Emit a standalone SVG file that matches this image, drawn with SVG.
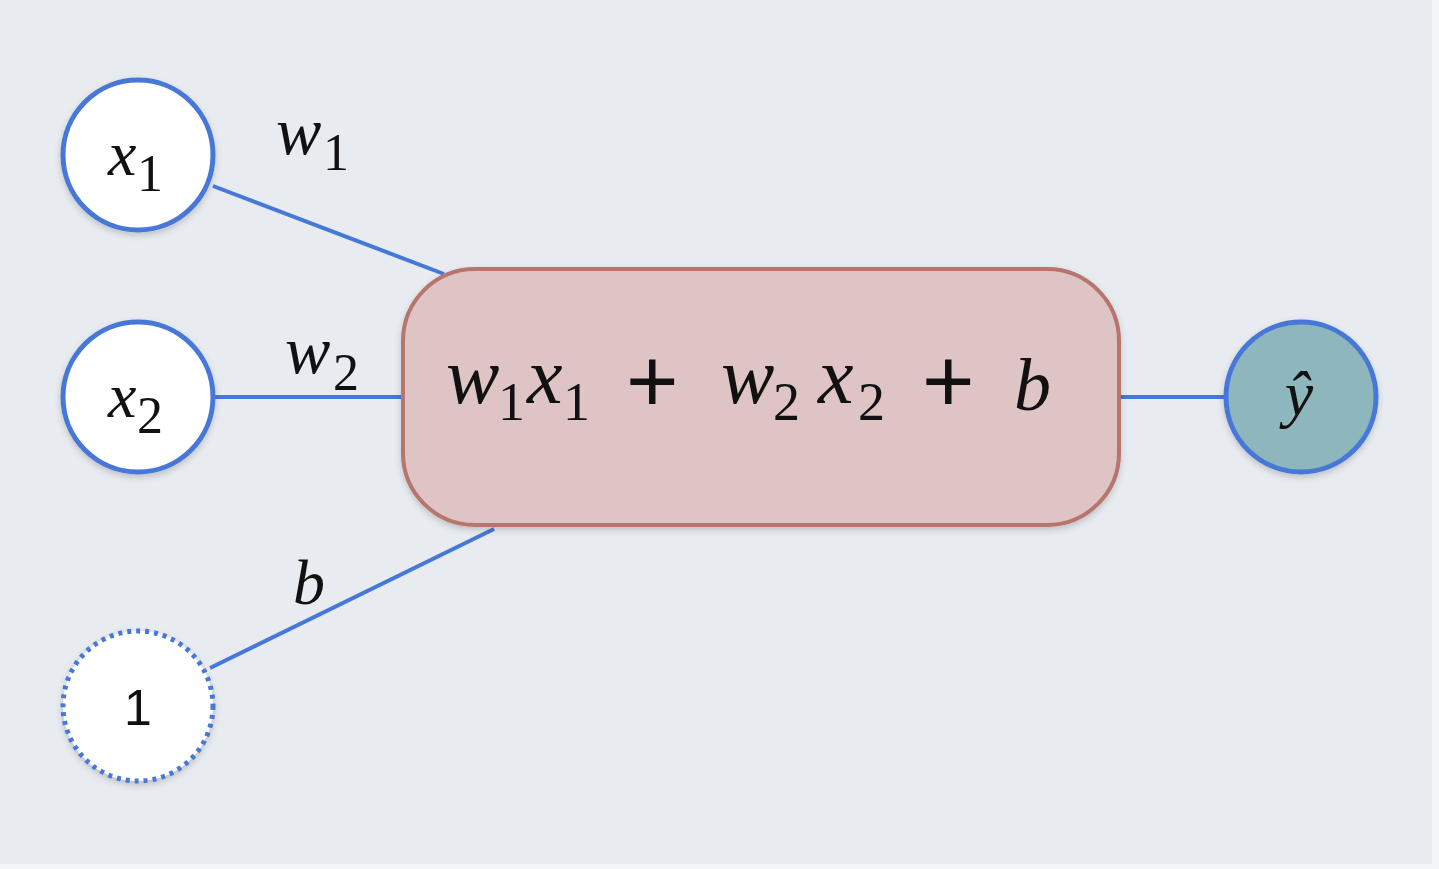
<svg xmlns="http://www.w3.org/2000/svg" width="1439" height="869" viewBox="0 0 1439 869">
<defs>
<filter id="sh" x="-20%" y="-20%" width="140%" height="140%">
<feDropShadow dx="0" dy="3" stdDeviation="3" flood-color="#000" flood-opacity="0.18"/>
</filter>
</defs>
<style>
.node{fill:#ffffff;stroke:#4678d8;stroke-width:5}
.dot{fill:#ffffff;stroke:#4678d8;stroke-width:5;stroke-dasharray:4 5}
.out{fill:#8db7bd;stroke:#4678d8;stroke-width:5}
.edge{stroke:#4678d8;stroke-width:4;fill:none}
.m{font-family:'Liberation Serif',serif;font-style:italic;fill:#111}
.n{font-family:'Liberation Serif',serif;fill:#111}
.p{font-family:'Liberation Sans',sans-serif;fill:#111}
</style>
<rect x="0" y="0" width="1439" height="869" fill="#f4f5f8"/>
<rect x="0" y="0" width="1432" height="864" fill="#e8ebef"/>
<g id="connectors">
<line class="edge" x1="213" y1="186" x2="444" y2="274"/>
<line class="edge" x1="214" y1="397" x2="404" y2="397"/>
<line class="edge" x1="210" y1="668" x2="494" y2="529"/>
<line class="edge" x1="1118" y1="397" x2="1226" y2="397"/>
<text class="m" x="276" y="154" font-size="68">w</text>
<text class="n" x="323" y="170" font-size="52">1</text>
<text class="m" x="285" y="373" font-size="68">w</text>
<text class="n" x="333" y="390" font-size="52">2</text>
<text class="m" x="293" y="604" font-size="64">b</text>
</g>
<g id="sum">
<rect x="403" y="269" width="716" height="256" rx="72" ry="72" fill="#dfc4c5" stroke="#b7756f" stroke-width="4" filter="url(#sh)"/>
<text class="m" x="446" y="403" font-size="80">w</text>
<text class="n" x="498" y="420" font-size="54">1</text>
<text class="m" x="527" y="403" font-size="80">x</text>
<text class="n" x="563" y="420" font-size="54">1</text>
<text class="p" x="626" y="412" font-size="90">+</text>
<text class="m" x="721" y="403" font-size="80">w</text>
<text class="n" x="773" y="420" font-size="54">2</text>
<text class="m" x="818" y="403" font-size="80">x</text>
<text class="n" x="858" y="420" font-size="54">2</text>
<text class="p" x="922" y="412" font-size="90">+</text>
<text class="m" x="1014" y="410" font-size="74">b</text>
</g>
<g id="x1">
<circle class="node" cx="138" cy="155" r="75" filter="url(#sh)"/>
<text class="m" x="108" y="175" font-size="64">x</text>
<text class="n" x="137" y="191" font-size="52">1</text>
</g>
<g id="x2">
<circle class="node" cx="138" cy="397" r="75" filter="url(#sh)"/>
<text class="m" x="108" y="417" font-size="64">x</text>
<text class="n" x="137" y="433" font-size="52">2</text>
</g>
<g id="bias">
<circle class="dot" cx="138" cy="706" r="75" filter="url(#sh)"/>
<text class="p" x="138" y="725" font-size="50" text-anchor="middle">1</text>
</g>
<g id="yhat">
<circle class="out" cx="1301" cy="397" r="75" filter="url(#sh)"/>
<text class="m" x="1299" y="415" font-size="64" text-anchor="middle">ŷ</text>
</g>
</svg>
